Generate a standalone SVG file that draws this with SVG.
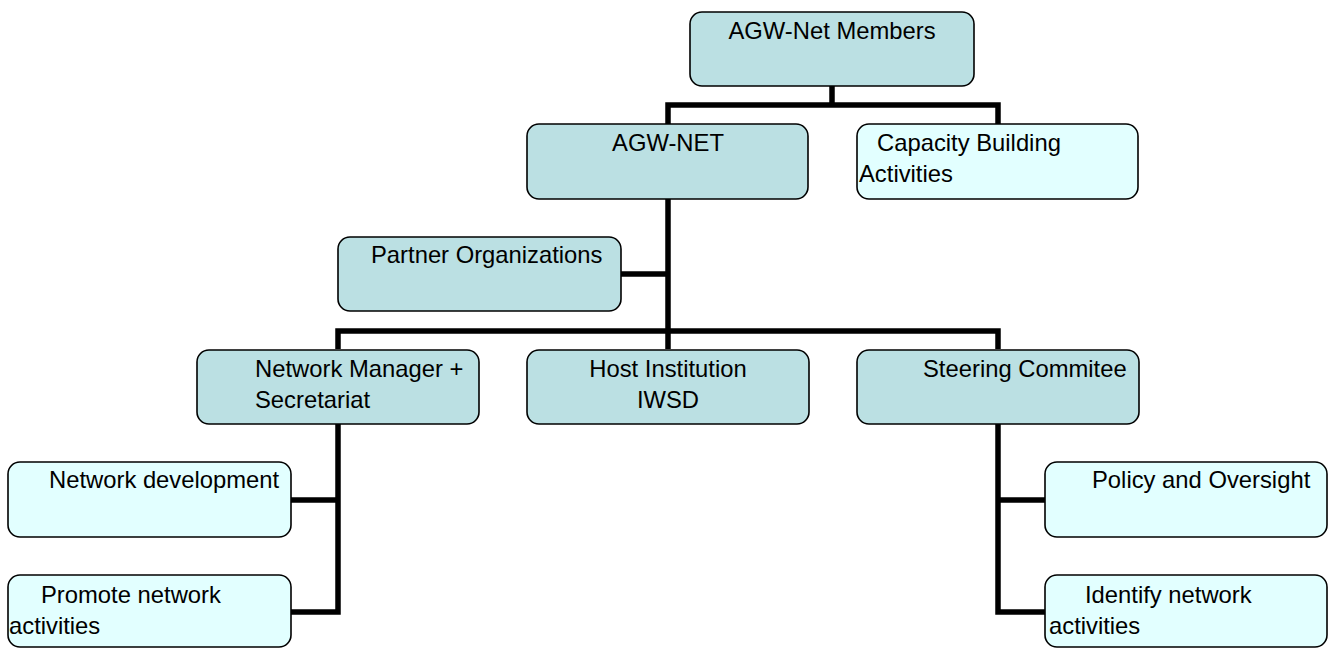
<svg xmlns="http://www.w3.org/2000/svg" width="1330" height="648" viewBox="0 0 1330 648">
<style>
.dark{fill:#bbe0e3;stroke:#000;stroke-width:1.6}
.light{fill:#e2ffff;stroke:#000;stroke-width:1.6}
text{font-family:"Liberation Sans",Arial,sans-serif;font-size:23.8px;fill:#000}
.c{text-anchor:middle}
.conn{fill:none;stroke:#000;stroke-width:5.5;stroke-linejoin:miter}
</style>
<rect width="1330" height="648" fill="#fff"/>
<g id="connectors">
<path class="conn" d="M832 86V105M668 124V105H998V124"/>
<path class="conn" d="M668 199V349M621 274H668"/>
<path class="conn" d="M338 349V331H998V349"/>
<path class="conn" d="M338 423V612H291M291 500H338"/>
<path class="conn" d="M998 423V612H1045M1045 500H998"/>
</g>
<g id="n-members"><rect class="dark" x="690" y="12" width="284" height="74" rx="12"/><text class="c" x="832" y="39">AGW-Net Members</text></g>
<g id="n-agwnet"><rect class="dark" x="527" y="124" width="281" height="75" rx="12"/><text class="c" x="668" y="151">AGW-NET</text></g>
<g id="n-capacity"><rect class="light" x="857" y="124" width="281" height="75" rx="12"/><text x="877" y="151">Capacity Building</text><text x="859" y="182">Activities</text></g>
<g id="n-partner"><rect class="dark" x="338" y="237" width="283" height="74" rx="12"/><text x="371" y="263">Partner Organizations</text></g>
<g id="n-manager"><rect class="dark" x="197" y="350" width="282" height="74" rx="12"/><text x="255" y="377">Network Manager +</text><text x="255" y="408">Secretariat</text></g>
<g id="n-host"><rect class="dark" x="527" y="350" width="282" height="74" rx="12"/><text class="c" x="668" y="377">Host Institution</text><text class="c" x="668" y="408">IWSD</text></g>
<g id="n-steering"><rect class="dark" x="857" y="350" width="282" height="74" rx="12"/><text x="923" y="377">Steering Commitee</text></g>
<g id="n-netdev"><rect class="light" x="8" y="462" width="283" height="75" rx="12"/><text x="49" y="488">Network development</text></g>
<g id="n-promote"><rect class="light" x="8" y="575" width="283" height="72" rx="12"/><text x="41" y="603">Promote network</text><text x="9" y="634">activities</text></g>
<g id="n-policy"><rect class="light" x="1045" y="462" width="282" height="75" rx="12"/><text x="1092" y="488">Policy and Oversight</text></g>
<g id="n-identify"><rect class="light" x="1045" y="575" width="282" height="72" rx="12"/><text x="1085" y="603">Identify network</text><text x="1049" y="634">activities</text></g>
</svg>
